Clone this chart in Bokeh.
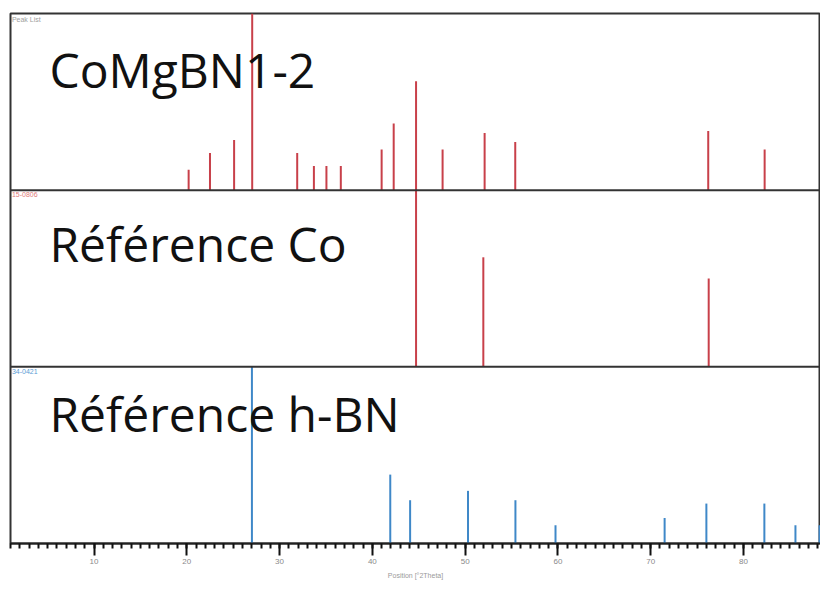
from bokeh.plotting import figure
from bokeh.models import ColumnDataSource, Range1d, Span, Label, SingleIntervalTicker
from bokeh.embed import file_html
from bokeh.resources import INLINE

# ---- data ----
sample_pos = [20.2, 22.5, 25.1, 27.05, 31.9, 33.7, 35.05, 36.6, 41.0, 42.3,
              44.71, 47.57, 52.1, 55.4, 76.2, 82.28]
sample_int = [11.6, 21.0, 28.4, 100.0, 21.0, 13.7, 13.7, 13.7, 23.0, 37.7,
              61.7, 23.0, 32.4, 27.3, 33.5, 23.0]
co_pos = [44.71, 51.96, 76.25]
co_int = [100.0, 62.0, 50.0]
bn_pos = [27.02, 41.93, 44.07, 50.31, 55.42, 59.74, 71.5, 76.0, 82.25, 85.6, 88.2]
bn_int = [100.0, 39.0, 24.5, 29.8, 24.5, 10.3, 14.4, 22.6, 22.6, 10.3, 10.3]

panel_titles = ["CoMgBN1-2", "Référence Co", "Référence h-BN"]
panel_refs = ["Peak List", "15-0806", "34-0421"]
axis_title = "Position [°2Theta]"

RED = "#c8404a"
BLUE = "#3f88c8"

p = figure(frame_width=810, frame_height=530, output_backend="svg", toolbar_location=None,
           x_range=Range1d(1.0, 88.3), y_range=Range1d(0, 3),
           min_border_left=10, min_border_right=0, min_border_top=13, min_border_bottom=36)
p.grid.visible = False
p.yaxis.visible = False
p.outline_line_color = "#333333"
p.outline_line_width = 2
p.background_fill_color = "white"
p.border_fill_color = "white"

# separators between panels
for yv in (1, 2):
    p.add_layout(Span(location=yv, dimension="width", line_color="#333333", line_width=2))

# big panel titles (drawn below the lines)
title_y = [2.683, 1.70, 0.735]
for t, yy in zip(panel_titles, title_y):
    p.add_layout(Label(x=5.2, y=yy, text=t, text_font="Open Sans", text_font_size="48px",
                       text_color="#111111", text_baseline="alphabetic"), "center")

# small reference labels
ref_cols = ["#a0a0a0", "#e07a7a", "#5b9bd5"]
for t, yy, c in zip(panel_refs, (3, 2, 1), ref_cols):
    p.add_layout(Label(x=1.15, y=yy, y_offset=-2, text=t, text_font="Liberation Sans",
                       text_font_size="7px", text_color=c, text_baseline="top"))

def stick(pos, inten, offset, color):
    src = ColumnDataSource(dict(x=pos, y0=[offset] * len(pos),
                                y1=[offset + v / 100.0 for v in inten]))
    p.segment(x0="x", y0="y0", x1="x", y1="y1", source=src, line_color=color, line_width=2)

stick(sample_pos, sample_int, 2, RED)
stick(co_pos, co_int, 1, RED)
stick(bn_pos, bn_int, 0, BLUE)

ax = p.xaxis[0]
ax.ticker = SingleIntervalTicker(interval=10, num_minor_ticks=10)
ax.axis_line_color = "#222222"
ax.axis_line_width = 2
ax.major_tick_in = 0
ax.major_tick_out = 12
ax.minor_tick_in = 0
ax.minor_tick_out = 5
ax.major_tick_line_color = "#111111"
ax.major_tick_line_width = 2
ax.minor_tick_line_color = "#111111"
ax.minor_tick_line_width = 2
ax.major_label_text_font = "Liberation Sans"
ax.major_label_text_font_size = "8px"
ax.major_label_text_color = "#8a8a8a"
ax.major_label_standoff = 3
ax.axis_label = axis_title
ax.axis_label_text_font = "Liberation Sans"
ax.axis_label_text_font_size = "7px"
ax.axis_label_text_font_style = "normal"
ax.axis_label_text_color = "#9a9a9a"
ax.axis_label_standoff = 5

open("out.html", "w").write(file_html(p, INLINE))
